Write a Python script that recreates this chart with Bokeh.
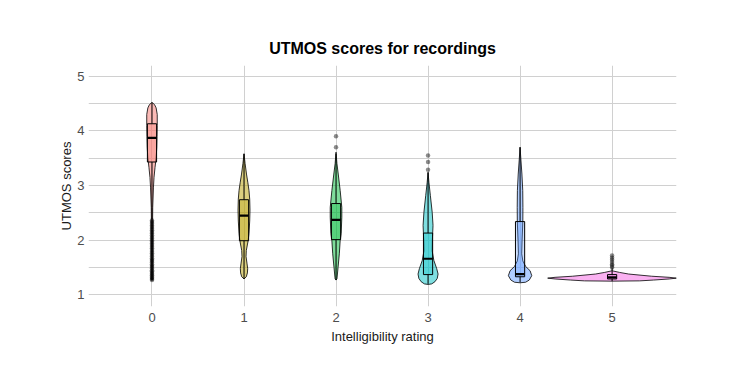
from bokeh.plotting import figure
from bokeh.models import FixedTicker
from bokeh.embed import file_html
from bokeh.resources import INLINE

# ---------------- data ----------------
categories = ["0", "1", "2", "3", "4", "5"]
colors = ["#F8766D", "#B79F00", "#00BA38", "#00BFC4", "#619CFF", "#F564E3"]

# violin density profiles: score levels and half-widths (in category units)
v0_y = [1.27, 1.7, 2.2, 2.6, 2.97, 3.15, 3.33, 3.5, 3.7, 3.9, 4.1, 4.3, 4.42, 4.48, 4.52]
v0_w = [0.004, 0.005, 0.006, 0.008, 0.016, 0.022, 0.033, 0.045, 0.052, 0.055, 0.057, 0.057, 0.045, 0.028, 0.0]
v1_y = [1.29, 1.33, 1.40, 1.48, 1.58, 1.70, 1.81, 1.99, 2.12, 2.35, 2.55, 2.75, 2.91, 3.05, 3.21, 3.40, 3.58]
v1_w = [0.0, 0.025, 0.037, 0.040, 0.032, 0.022, 0.025, 0.045, 0.054, 0.062, 0.065, 0.062, 0.054, 0.042, 0.027, 0.012, 0.0]
v2_y = [1.27, 1.29, 1.50, 1.75, 1.99, 2.12, 2.42, 2.60, 2.91, 3.21, 3.40, 3.61]
v2_w = [0.0, 0.010, 0.022, 0.036, 0.045, 0.056, 0.063, 0.063, 0.045, 0.024, 0.010, 0.0]
v3_y = [1.19, 1.20, 1.24, 1.30, 1.38, 1.48, 1.63, 1.80, 2.00, 2.27, 2.51, 2.82, 3.05, 3.24]
v3_w = [0.0, 0.040, 0.075, 0.100, 0.109, 0.094, 0.063, 0.045, 0.047, 0.054, 0.045, 0.025, 0.010, 0.0]
v4_y = [1.22, 1.23, 1.27, 1.35, 1.44, 1.52, 1.62, 1.75, 1.99, 2.34, 2.60, 2.91, 3.21, 3.45, 3.70]
v4_w = [0.0, 0.06, 0.10, 0.127, 0.109, 0.06, 0.03, 0.018, 0.022, 0.03, 0.031, 0.029, 0.020, 0.010, 0.0]
v5_y = [1.25, 1.255, 1.27, 1.29, 1.305, 1.32, 1.34, 1.38, 1.41, 1.44]
v5_w = [0.0, 0.30, 0.45, 0.62, 0.70, 0.62, 0.43, 0.18, 0.08, 0.0]

# box plot statistics
box_lower = [2.38, 1.29, 1.27, 1.20, 1.23, 1.25]
box_q1 = [3.43, 1.99, 2.01, 1.37, 1.33, 1.29]
box_median = [3.87, 2.45, 2.37, 1.66, 1.38, 1.32]
box_q3 = [4.13, 2.74, 2.67, 2.13, 2.34, 1.37]
box_upper = [4.52, 3.58, 3.58, 3.24, 3.70, 1.49]

# outliers
out0 = [1.27, 1.29, 1.31, 1.33, 1.36, 1.38, 1.40, 1.43, 1.45, 1.48, 1.51, 1.53, 1.56, 1.59,
        1.62, 1.64, 1.67, 1.70, 1.73, 1.76, 1.79, 1.82, 1.85, 1.88, 1.91, 1.94, 1.97, 2.00,
        2.03, 2.06, 2.09, 2.12, 2.15, 2.18, 2.21, 2.24, 2.27, 2.30, 2.33, 2.36]
out2 = [3.70, 3.90]
out3 = [3.29, 3.43, 3.55]
out5 = [1.50, 1.53, 1.56, 1.60, 1.64, 1.68, 1.72]

y_ticks = [1, 2, 3, 4, 5]
y_minor = [1.5, 2.5, 3.5, 4.5]

violins = [(v0_y, v0_w), (v1_y, v1_w), (v2_y, v2_w), (v3_y, v3_w), (v4_y, v4_w), (v5_y, v5_w)]
outliers = [out0, [], out2, out3, [], out5]

FONT = "Liberation Sans"
BOX_HALF = 0.05

p = figure(width=723, height=366, output_backend="svg", toolbar_location=None,
           x_range=(-0.69, 5.70), y_range=(0.786, 5.196),
           min_border_left=88, min_border_right=47, min_border_top=65, min_border_bottom=60,
           title="UTMOS scores for recordings")
p.outline_line_color = None
p.background_fill_color = "white"
p.border_fill_color = "white"

p.title.align = "center"
p.title.text_font = FONT
p.title.text_font_size = "16px"
p.title.text_font_style = "bold"
p.title.text_color = "#000000"
p.title.standoff = 18

# violins
xs_list, ys_list = [], []
for i, (vy, vw) in enumerate(violins):
    xs = [i + w for w in vw] + [i - w for w in reversed(vw)]
    ys = list(vy) + list(reversed(vy))
    xs_list.append(xs)
    ys_list.append(ys)
p.patches(xs=xs_list, ys=ys_list, fill_color=colors, fill_alpha=0.5,
          line_color="black", line_width=0.8)

xc = list(range(len(categories)))
# whiskers
p.segment(x0=xc, y0=box_q3, x1=xc, y1=box_upper, line_color="black", line_width=1)
p.segment(x0=xc, y0=box_lower, x1=xc, y1=box_q1, line_color="black", line_width=1)
# boxes
p.quad(left=[x - BOX_HALF for x in xc], right=[x + BOX_HALF for x in xc],
       bottom=box_q1, top=box_q3, fill_color=colors, fill_alpha=0.3,
       line_color="black", line_width=1)
# medians
p.segment(x0=[x - BOX_HALF for x in xc], y0=box_median, x1=[x + BOX_HALF for x in xc],
          y1=box_median, line_color="black", line_width=2.2)

# outliers
ox, oy = [], []
for i, vals in enumerate(outliers):
    ox += [i] * len(vals)
    oy += vals
p.scatter(x=ox, y=oy, size=4.5, fill_color="black", fill_alpha=0.45, line_color=None)

# axes
p.xaxis.ticker = FixedTicker(ticks=xc)
p.xaxis.major_label_overrides = {i: c for i, c in enumerate(categories)}
p.yaxis.ticker = FixedTicker(ticks=y_ticks, minor_ticks=y_minor)
for ax in (p.xaxis, p.yaxis):
    ax.axis_line_color = None
    ax.major_tick_line_color = None
    ax.minor_tick_line_color = None
    ax.major_tick_out = 0
    ax.major_tick_in = 0
    ax.minor_tick_out = 0
    ax.major_label_text_font = FONT
    ax.major_label_text_font_size = "13px"
    ax.major_label_text_color = "#4D4D4D"
    ax.axis_label_text_font = FONT
    ax.axis_label_text_font_size = "13px"
    ax.axis_label_text_font_style = "normal"
    ax.axis_label_text_color = "#1A1A1A"
p.xaxis.major_label_standoff = 6
p.yaxis.major_label_standoff = 4
p.xaxis.axis_label = "Intelligibility rating"
p.yaxis.axis_label = "UTMOS scores"
p.xaxis.axis_label_standoff = 4
p.yaxis.axis_label_standoff = 0

p.xgrid.grid_line_color = "#D0D0D0"
p.xgrid.grid_line_width = 1
p.ygrid.grid_line_color = "#D0D0D0"
p.ygrid.grid_line_width = 1
p.ygrid.minor_grid_line_color = "#D0D0D0"
p.ygrid.minor_grid_line_width = 1

open("out.html", "w").write(file_html(p, INLINE))
